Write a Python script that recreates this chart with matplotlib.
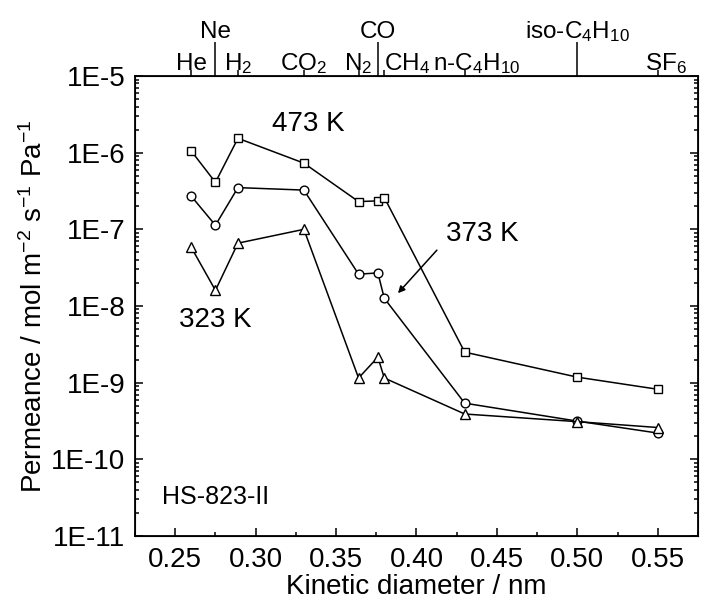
import numpy as np
import matplotlib
matplotlib.use('Agg')
import matplotlib.pyplot as plt
from matplotlib.ticker import LogLocator, FuncFormatter, MultipleLocator, NullFormatter
from matplotlib.transforms import ScaledTranslation

plt.rcParams['font.family'] = ['Liberation Sans', 'DejaVu Sans']
plt.rcParams['mathtext.fontset'] = 'custom'
plt.rcParams['mathtext.rm'] = 'Liberation Sans'
plt.rcParams['mathtext.it'] = 'Liberation Sans'
plt.rcParams['mathtext.default'] = 'regular'

# ─── Data ─────────────────────────────────────────────────────────────────────
gas_names = ['He', 'Ne', 'H$_2$', 'CO$_2$', 'N$_2$', 'CO', 'CH$_4$',
             'n-C$_4$H$_{10}$', 'iso-C$_4$H$_{10}$', 'SF$_6$']
kinetic_d = [0.26, 0.275, 0.289, 0.33, 0.364, 0.376, 0.38, 0.43, 0.50, 0.55]
long_tick = [False, True, False, False, False, True, False, False, True, False]

perm_473 = [1.05e-6, 4.1e-7, 1.54e-6, 7.3e-7, 2.3e-7, 2.35e-7, 2.6e-7,
            2.5e-9, 1.18e-9, 8.2e-10]
perm_373 = [2.7e-7, 1.13e-7, 3.5e-7, 3.25e-7, 2.6e-8, 2.7e-8, 1.26e-8,
            5.4e-10, 3.15e-10, 2.2e-10]
perm_323 = [5.8e-8, 1.6e-8, 6.6e-8, 1.0e-7, 1.15e-9, 2.15e-9, 1.15e-9,
            3.9e-10, 3.1e-10, 2.6e-10]

# ─── Figure ───────────────────────────────────────────────────────────────────
fig = plt.figure(figsize=(7.01, 6.07), dpi=100)
ax = fig.add_axes([0.1926, 0.117, 0.803, 0.7578])

mk = dict(color='black', lw=1.1, markerfacecolor='white',
          markeredgecolor='black', markeredgewidth=1.0)
ax.plot(kinetic_d, perm_473, marker='s', ms=5.8, **mk)
ax.plot(kinetic_d, perm_373, marker='o', ms=6.3, **mk)
ax.plot(kinetic_d, perm_323, marker='^', ms=7.5, **mk)

ax.set_yscale('log')
ax.set_xlim(0.225, 0.575)
ax.set_ylim(1e-11, 1e-5)
ax.xaxis.set_major_locator(MultipleLocator(0.05))
ax.xaxis.set_minor_locator(MultipleLocator(0.025))
ax.xaxis.set_major_formatter(FuncFormatter(lambda v, _: f'{v:.2f}'))
ax.yaxis.set_major_locator(LogLocator(base=10, numticks=20))
ax.yaxis.set_minor_locator(LogLocator(base=10, subs=np.arange(2, 10), numticks=20))
ax.yaxis.set_minor_formatter(NullFormatter())
ax.yaxis.set_major_formatter(FuncFormatter(lambda v, _: f'1E{int(round(np.log10(v)))}'))

ax.tick_params(which='both', direction='in', top=True, right=True,
               labelsize=20, width=1.1)
ax.tick_params(which='major', length=6)
ax.tick_params(which='minor', length=3)
ax.tick_params(axis='x', pad=8)
ax.tick_params(axis='y', pad=7)
for s in ax.spines.values():
    s.set_linewidth(1.3)

ax.set_xlabel('Kinetic diameter / nm', fontsize=20, labelpad=1)
ax.set_ylabel('Permeance / mol m$^{-2}$ s$^{-1}$ Pa$^{-1}$', fontsize=20, labelpad=2)

# ─── Top axis: gas kinetic diameters ─────────────────────────────────────────
top = ax.twiny()
top.set_xlim(ax.get_xlim())
short_x = [x for x, l in zip(kinetic_d, long_tick) if not l]
short_lab = [g for g, l in zip(gas_names, long_tick) if not l]
long_x = [x for x, l in zip(kinetic_d, long_tick) if l]
long_lab = [g for g, l in zip(gas_names, long_tick) if l]
top.set_xticks(short_x)
top.set_xticklabels(short_lab)
top.set_xticks(long_x, minor=True)
top.set_xticklabels(long_lab, minor=True)
top.tick_params(which='major', direction='out', length=4.5, width=1.1,
                pad=0, labelsize=17.5)
top.tick_params(which='minor', direction='out', length=24.5, width=1.1,
                pad=3, labelsize=17.5, labeltop=True)
for lab in top.get_xticklabels() + top.get_xticklabels(minor=True):
    lab.set_va('baseline')
    t = lab.get_text()
    if t == 'CH$_4$':
        lab.set_ha('left')
    if t.startswith('n-'):
        lab.set_transform(lab.get_transform() +
                          ScaledTranslation(0.12, 0, fig.dpi_scale_trans))
    if t == 'SF$_6$':
        lab.set_transform(lab.get_transform() +
                          ScaledTranslation(0.08, 0, fig.dpi_scale_trans))

# ─── Annotations ─────────────────────────────────────────────────────────────
ax.text(0.333, 2.4e-6, '473 K', fontsize=20, ha='center', va='center')
ax.text(0.2748, 6.5e-9, '323 K', fontsize=20, ha='center', va='center')
ax.text(0.4407, 8.6e-8, '373 K', fontsize=20, ha='center', va='center')
ax.annotate('', xy=(0.3885, 1.47e-8), xytext=(0.4127, 5.35e-8),
            arrowprops=dict(arrowstyle='-|>', lw=1.1, color='black',
                            mutation_scale=10, shrinkA=0, shrinkB=0))
ax.text(0.242, 3.2e-11, 'HS-823-II', fontsize=18, ha='left', va='center')

fig.savefig('out.png', dpi=100)
